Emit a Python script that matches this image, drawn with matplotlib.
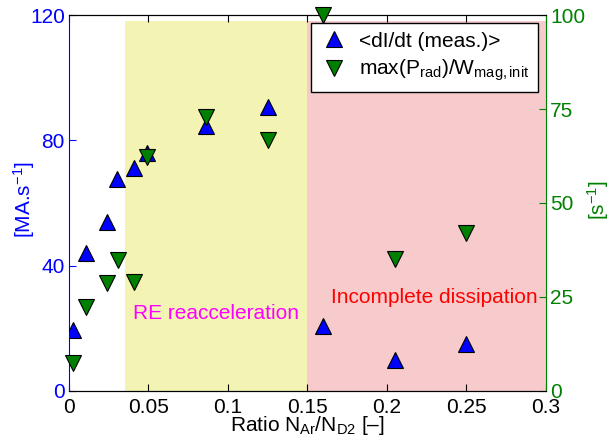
import matplotlib
matplotlib.use("Agg")
import matplotlib.pyplot as plt
from matplotlib.lines import Line2D

plt.rcParams['font.family'] = ['Liberation Sans', 'DejaVu Sans']
plt.rcParams['mathtext.fontset'] = 'custom'
plt.rcParams['mathtext.rm'] = 'Liberation Sans'
plt.rcParams['mathtext.it'] = 'Liberation Sans'
plt.rcParams['mathtext.default'] = 'regular'

# data
ratio_dIdt = [0.0025, 0.0105, 0.024, 0.030, 0.041, 0.049, 0.086, 0.125, 0.160, 0.205, 0.250]
dIdt = [19.5, 44, 54, 67.7, 71.2, 76, 84.6, 90.6, 20.7, 9.9, 15]

ratio_prad = [0.0025, 0.0105, 0.024, 0.031, 0.041, 0.049, 0.086, 0.125, 0.160, 0.205, 0.250]
prad = [7.4, 22.3, 28.7, 34.8, 29, 62.2, 72.9, 66.8, 100, 35.1, 42]

re_region = [0.035, 0.15]
incomplete_region = [0.15, 0.3]
region_top = 118

blue = (0, 0, 1)
green = (0, 0.5, 0)
fs = 15

fig = plt.figure(figsize=(6.12, 4.44), dpi=100)
ax1 = fig.add_axes([0.1127, 0.1194, 0.7794, 0.8468])
ax2 = ax1.twinx()

ax1.fill_between(re_region, 0, region_top, color='#f3f3b4', lw=0, zorder=0)
ax1.fill_between(incomplete_region, 0, region_top, color='#f7cbcb', lw=0, zorder=0)

ax1.plot(ratio_dIdt, dIdt, '^', ms=11, mfc=blue, mec='k', mew=0.8, zorder=3)
ax2.plot(ratio_prad, prad, 'v', ms=11, mfc=green, mec='k', mew=0.8, clip_on=False, zorder=3)

ax1.text(0.040, 24.6, 'RE reacceleration', color='magenta', fontsize=fs, va='center')
ax1.text(0.165, 29.7, 'Incomplete dissipation', color='red', fontsize=fs, va='center')

ax1.set_xlim(0, 0.3)
ax1.set_ylim(0, 120)
ax2.set_ylim(0, 100)
ax1.set_xticks([0, 0.05, 0.1, 0.15, 0.2, 0.25, 0.3])
ax1.set_xticklabels(['0', '0.05', '0.1', '0.15', '0.2', '0.25', '0.3'])
ax1.set_yticks([0, 40, 80, 120])
ax2.set_yticks([0, 25, 50, 75, 100])

ax1.tick_params(axis='x', direction='in', length=5, labelsize=fs, top=True, pad=5)
ax1.tick_params(axis='y', direction='in', length=5, labelsize=fs, colors=blue, pad=3)
ax2.tick_params(axis='y', direction='in', length=5, labelsize=fs, colors=green, pad=3)

ax1.spines['left'].set_color(blue)
ax2.spines['left'].set_visible(False)
ax2.spines['right'].set_color(green)
ax1.spines['right'].set_visible(False)

ax1.set_xlabel('Ratio N$_{Ar}$/N$_{D2}$ [\u2013]', fontsize=fs)
ax1.xaxis.set_label_coords(0.5, -0.062)
ax1.xaxis.label.set_va('top')
ax1.set_ylabel('[MA.s$^{-1}$]', color=blue, fontsize=fs)
ax1.yaxis.set_label_coords(-0.068, 0.508)
ax2.set_ylabel('[s$^{-1}$]', color=green, fontsize=fs, rotation=90)
ax2.yaxis.set_label_coords(1.082, 0.508)

handles = [
    Line2D([], [], ls='none', marker='^', ms=11, mfc=blue, mec='k', mew=0.8),
    Line2D([], [], ls='none', marker='v', ms=11, mfc=green, mec='k', mew=0.8),
]
labels = ['<dI/dt (meas.)>', 'max(P$_{rad}$)/W$_{mag,init}$']
leg = ax2.legend(handles, labels, loc='upper right', bbox_to_anchor=(0.983, 0.978),
                 fontsize=fs, frameon=True, fancybox=False, edgecolor='k',
                 framealpha=1, handlelength=1.4, handletextpad=0.5,
                 borderpad=0.4, labelspacing=0.35, borderaxespad=0)
leg.get_frame().set_linewidth(1.0)

fig.savefig('out.png', dpi=100)
